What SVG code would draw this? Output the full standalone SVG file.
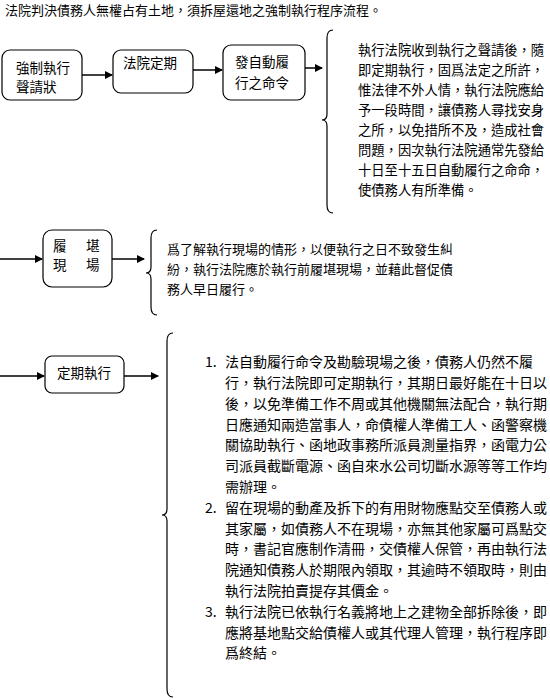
<svg xmlns="http://www.w3.org/2000/svg" width="550" height="700" viewBox="0 0 550 700">
<style>
text{font-family:"Noto Sans CJK TC","Noto Sans CJK SC",sans-serif;fill:#000}
.t{font-size:13px}
.b{font-size:13.5px}
.p1{font-size:13.3px}
.p2{font-size:13px}
.p3{font-size:14px}
.box{fill:#fff;stroke:#000;stroke-width:1.2}
.ln{stroke:#000;stroke-width:1.5;fill:none;marker-end:url(#ah)}
.br{stroke:#000;stroke-width:1.2;fill:none}
</style>
<defs>
<marker id="ah" markerWidth="8" markerHeight="8" refX="7" refY="4" orient="auto" markerUnits="userSpaceOnUse">
<path d="M0,0 L8,4 L0,8 Z" fill="#000"/>
</marker>
</defs>
<rect width="550" height="700" fill="#fff"/>
<text class="t" x="5" y="15">法院判決債務人無權占有土地，須拆屋還地之強制執行程序流程。</text>

<g id="node-shenqing">
<rect class="box" x="2" y="50" width="80" height="50" rx="8"/>
<text class="b" x="16" y="73">強制執行</text>
<text class="b" x="16" y="92">聲請狀</text>
</g>
<g id="node-dingqi">
<rect class="box" x="113" y="50" width="80" height="43" rx="8"/>
<text class="b" x="123" y="68">法院定期</text>
</g>
<g id="node-mingling">
<rect class="box" x="223" y="45" width="82" height="55" rx="8"/>
<text class="b" x="235" y="67">發自動履</text>
<text class="b" x="235" y="88">行之命令</text>
</g>
<g id="node-lvkan">
<rect class="box" x="43" y="230" width="69" height="57" rx="9"/>
<text class="b" x="53" y="251">履</text>
<text class="b" x="86" y="251">堪</text>
<text class="b" x="53" y="270">現</text>
<text class="b" x="86" y="270">場</text>
</g>
<g id="node-zhixing">
<rect class="box" x="45" y="356" width="79" height="37" rx="7"/>
<text class="b" x="57" y="378">定期執行</text>
</g>

<g id="connectors">
<line class="ln" x1="82" y1="75" x2="112" y2="75"/>
<line class="ln" x1="193" y1="70" x2="222" y2="70"/>
<line class="ln" x1="305" y1="68" x2="322" y2="68"/>
<line class="ln" x1="0" y1="259" x2="42" y2="259"/>
<line class="ln" x1="112" y1="259" x2="144" y2="259"/>
<line class="ln" x1="0" y1="376" x2="44" y2="376"/>
<line class="ln" x1="124" y1="376" x2="158" y2="376"/>
</g>

<g id="braces">
<path class="br" d="M333,30 Q327,30 327,38 L327,114 Q327,120 322,120 Q327,120 327,126 L327,205 Q327,213 333,213"/>
<path class="br" d="M157,230 Q151,230 151,238 L151,267 Q151,273 146,273 Q151,273 151,279 L151,307 Q151,315 157,315"/>
<path class="br" d="M173,333 Q167,333 167,341 L167,509 Q167,515 162,515 Q167,515 167,521 L167,689 Q167,697 173,697" stroke="#444" stroke-width="1.6"/>
</g>

<g id="text-1" class="p1">
<text x="358" y="55">執行法院收到執行之聲請後，隨</text>
<text x="358" y="75">即定期執行，固爲法定之所許，</text>
<text x="358" y="95">惟法律不外人情，執行法院應給</text>
<text x="358" y="115">予一段時間，讓債務人尋找安身</text>
<text x="358" y="135">之所，以免措所不及，造成社會</text>
<text x="358" y="155">問題，因次執行法院通常先發給</text>
<text x="358" y="175">十日至十五日自動履行之命命，</text>
<text x="358" y="195">使債務人有所準備。</text>
</g>

<g id="text-2" class="p2">
<text x="167" y="254">爲了解執行現場的情形，以便執行之日不致發生糾</text>
<text x="167" y="274">紛，執行法院應於執行前履堪現場，並藉此督促債</text>
<text x="167" y="294">務人早日履行。</text>
</g>

<g id="text-3" class="p3">
<text x="205" y="367">1.</text>
<text x="225" y="367">法自動履行命令及勘驗現場之後，債務人仍然不履</text>
<text x="225" y="388">行，執行法院即可定期執行，其期日最好能在十日以</text>
<text x="225" y="409">後，以免準備工作不周或其他機關無法配合，執行期</text>
<text x="225" y="430">日應通知兩造當事人，命債權人準備工人、函警察機</text>
<text x="225" y="450">關協助執行、函地政事務所派員測量指界，函電力公</text>
<text x="225" y="471">司派員截斷電源、函自來水公司切斷水源等等工作均</text>
<text x="225" y="492">需辦理。</text>
<text x="205" y="513">2.</text>
<text x="225" y="513">留在現場的動產及拆下的有用財物應點交至債務人或</text>
<text x="225" y="534">其家屬，如債務人不在現場，亦無其他家屬可爲點交</text>
<text x="225" y="554">時，書記官應制作清冊，交債權人保管，再由執行法</text>
<text x="225" y="575">院通知債務人於期限內領取，其逾時不領取時，則由</text>
<text x="225" y="596">執行法院拍賣提存其價金。</text>
<text x="205" y="617">3.</text>
<text x="225" y="617">執行法院已依執行名義將地上之建物全部拆除後，即</text>
<text x="225" y="638">應將基地點交給債權人或其代理人管理，執行程序即</text>
<text x="225" y="658">爲終結。</text>
</g>
</svg>
